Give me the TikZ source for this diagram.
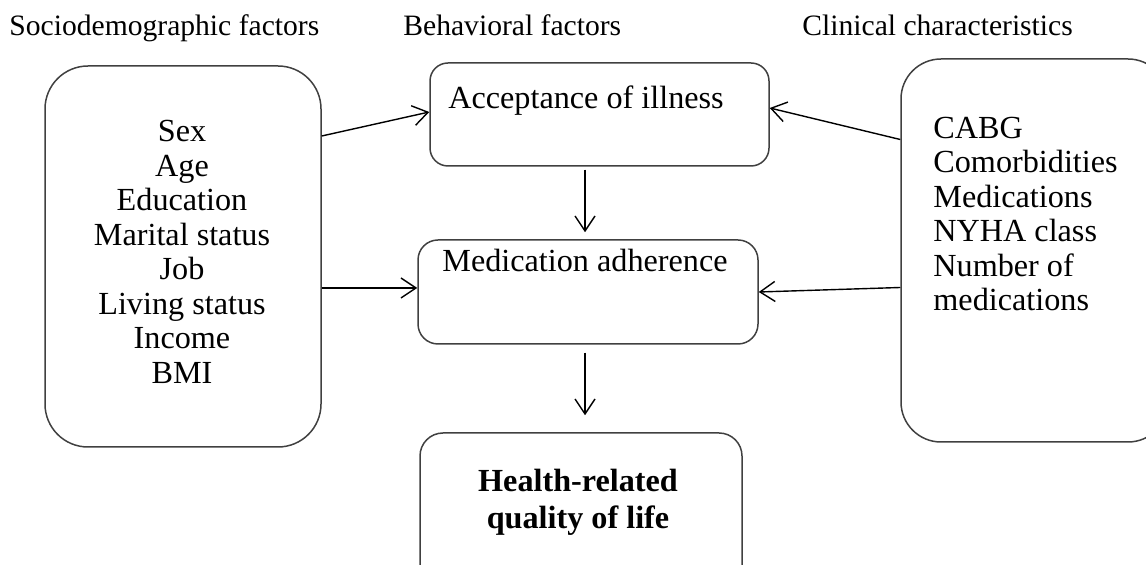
\documentclass[tikz,border=0pt]{standalone}
\usepackage{fontspec}
\setmainfont{Liberation Serif}
\usetikzlibrary{fit,arrows.meta}
\tikzset{
  box/.style={draw=black!75, line width=0.75pt, inner sep=0pt},
  txt/.style={inner sep=0pt, font=\fontsize{16.1pt}{17.25pt}\selectfont},
  head/.style={inner sep=0pt, anchor=base west, font=\fontsize{14.8pt}{17pt}\selectfont},
  arr/.style={line width=0.7pt, -{Straight Barb[length=7.5pt,width=10pt,line width=0.7pt]}}
}
\begin{document}
\begin{tikzpicture}[x=0.5pt,y=-0.5pt]
\useasboundingbox (0,0) rectangle (1146,565);
% headers
\node[head] (h1) at (9,35.5) {Sociodemographic factors};
\node[head] (h2) at (403,35.5) {Behavioral factors};
\node[head] (h3) at (802,35.5) {Clinical characteristics};
% boxes
\node[box, rounded corners=21.5pt, fit={(45,66)(321,447)}] (L) {};
\node[box, rounded corners=9pt, fit={(430,63)(769,166)}] (A) {};
\node[box, rounded corners=10pt, fit={(418,240)(758,344)}] (M) {};
\node[box, rounded corners=11.5pt, fit={(420,433)(742,620)}] (H) {};
\node[box, rounded corners=20pt, fit={(901,59)(1168,442)}] (R) {};
% texts
\node[txt, align=center] (Lt) at (182,252) {Sex\\Age\\Education\\Marital status\\Job\\Living status\\Income\\BMI};
\node[txt] (At) at (586,101) {Acceptance of illness};
\node[txt] (Mt) at (585,260) {Medication adherence};
\node[txt, align=center, font=\fontsize{16.1pt}{18.5pt}\selectfont\bfseries] (Ht) at (578,502) {Health-related\\quality of life};
\node[txt, align=left, anchor=west] (Rt) at (933,214) {CABG\\Comorbidities\\Medications\\NYHA class\\Number of\\medications};
% arrows
\draw[arr] ([yshift=60.25pt]L.east) -- ([yshift=1.25pt]A.west);
\draw[arr] ([yshift=55.5pt]R.west) -- ([yshift=3.25pt]A.east);
\draw[arr] ([xshift=-7.25pt,yshift=-1.5pt]A.south) -- ([xshift=-1.5pt,yshift=3.5pt]M.north);
\draw[arr] ([yshift=-15.75pt]L.east) -- ([yshift=-15.75pt]L.east -| M.west);
\draw[arr] ([yshift=-18.5pt]R.west) -- (M.east);
\draw[arr] ([xshift=-1.5pt,yshift=-4pt]M.south) -- ([xshift=2pt,yshift=8.5pt]H.north);
\end{tikzpicture}
\end{document}
